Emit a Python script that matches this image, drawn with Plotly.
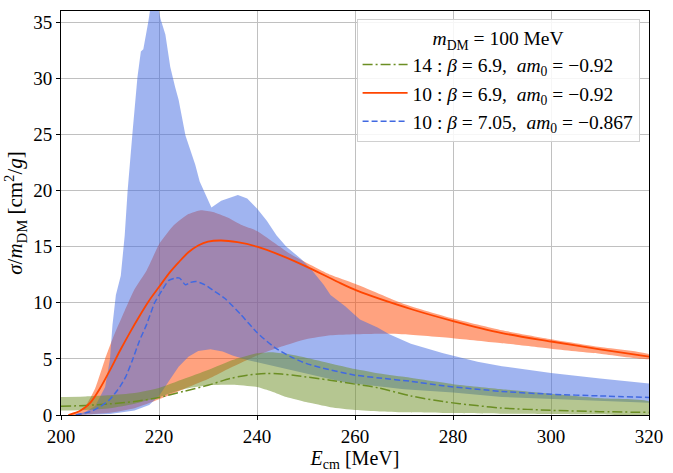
import plotly.graph_objects as go

# ---------------- data ----------------
# red band (10: beta=6.9, am0=-0.92)
red_up_E = [201.5, 203, 205, 207, 209, 211, 213, 215, 217.5, 220, 223, 226, 228.5, 231, 234, 237, 240,
            244, 247, 250, 255, 260, 270, 280, 290, 300, 310, 320]
red_up = [0, 0.2, 0.8, 2.4, 5.0, 7.3, 9.3, 11.2, 12.9, 15.2, 16.9, 17.9, 18.25, 18.1, 17.6, 16.9, 16.4,
          15.2, 14.3, 13.6, 12.5, 11.7, 9.9, 8.6, 7.55, 6.75, 6.05, 5.4]
red_lo_E = [201.5, 205, 210, 215, 220, 225, 230, 235, 240, 245, 250, 255, 260, 265, 270, 280, 290, 300, 310, 320]
red_lo = [0, 0.05, 0.2, 0.6, 1.4, 2.3, 3.2, 4.3, 5.3, 6.1, 6.75, 7.1, 7.2, 7.25, 7.2, 6.85, 6.4, 5.9, 5.45, 5.0]

# blue band (10: beta=7.05, am0=-0.867)
blue_up_E = [203, 205, 207, 209, 210, 210.5, 211.2, 212.2, 213, 213.6, 214.6, 215.6, 216.3, 216.8, 217.8,
             218.5, 219.5, 220.3, 221.3, 222.3, 223.3, 224, 225.4, 227.4, 228.3, 229.4, 230.7, 232.7,
             234.5, 236.1, 238, 240, 242, 244, 246, 249, 251, 253.6, 255, 258, 261, 264.6, 267, 271.4,
             278, 285, 290, 300, 310, 320]
blue_up = [0, 0.3, 0.8, 2.5, 5.0, 8.0, 10.7, 12.4, 16.0, 20.0, 25.2, 30.1, 32.4, 32.6, 35.0,
           37.0, 37.0, 35.3, 33.9, 31.0, 29.2, 28.1, 24.9, 22.3, 20.8, 19.7, 18.5, 19.1,
           19.4, 19.6, 19.3, 18.4, 17.3, 16.0, 15.0, 13.9, 13.0, 11.6, 10.7, 9.7, 8.5, 7.8, 7.2, 6.35,
           5.5, 4.75, 4.35, 3.75, 3.25, 2.8]
blue_lo_E = [203, 205, 210, 215, 218, 220, 222, 224, 226, 228, 230.5, 233, 235, 238, 240, 245, 250,
             258, 270, 280, 290, 300, 310, 320]
blue_lo = [0, 0.0, 0.1, 0.4, 0.9, 1.7, 3.0, 4.3, 5.2, 5.7, 5.85, 5.65, 5.3, 4.9, 4.7, 4.2, 3.7,
           2.9, 2.3, 2.0, 1.6, 1.4, 1.25, 1.1]

# green band (14: beta=6.9, am0=-0.92)
green_E = [200, 205, 210, 215, 220, 225, 230, 235, 240, 243, 246, 250, 255, 260, 265, 270, 280, 290, 300, 310, 320]
green_lo = [0.4, 0.45, 0.6, 1.0, 1.6, 2.3, 2.65, 2.7, 2.5, 2.1, 1.6, 1.15, 0.7, 0.45, 0.32, 0.25, 0.18, 0.12, 0.1, 0.07, 0.05]
green_up = [1.6, 1.65, 1.75, 1.95, 2.4, 3.2, 4.0, 4.9, 5.5, 5.6, 5.45, 5.1, 4.6, 4.1, 3.7, 3.4, 2.75, 2.3, 1.9, 1.5, 1.2]

# central curves
green_line_E = [200, 205, 210, 215, 220, 225, 230, 234.5, 238, 241.7, 245, 248.2, 254.9, 260, 264.6,
                271.4, 278.1, 284.8, 290, 300, 310, 320]
green_line = [0.78, 0.85, 1.0, 1.2, 1.56, 2.1, 2.65, 3.25, 3.55, 3.7, 3.65, 3.5, 3.1, 2.75, 2.43,
              1.7, 1.19, 0.84, 0.62, 0.42, 0.3, 0.23]

red_line_E = [201.5, 204, 206, 208, 210, 212, 214, 216, 218, 220, 222, 224, 226, 228, 230, 232.7,
              236, 240, 245, 250.2, 256.3, 260.3, 271.7, 280, 290, 300, 310, 320]
red_line = [0, 0.4, 1.1, 2.4, 4.0, 5.7, 7.3, 8.8, 10.2, 11.4, 12.6, 13.6, 14.5, 15.1, 15.45, 15.55,
            15.4, 15.0, 14.2, 13.2, 11.9, 11.1, 9.4, 8.37, 7.3, 6.55, 5.85, 5.2]

blue_line_E = [203, 206, 208, 210, 212, 213.2, 214.5, 216, 217.5, 219, 219.5, 220.6, 222, 223.3, 224.2,
               225.4, 226.3, 227.6, 229.4, 231.4, 233.4, 236.7, 240, 243.5, 246.8, 250, 253.5, 260,
               265, 271.4, 278, 290, 300, 310, 320]
blue_line = [0, 0.3, 0.75, 1.4, 2.5, 3.4, 4.8, 6.6, 8.1, 9.9, 10.3, 11.1, 12.0, 12.2, 12.2,
             11.6, 11.8, 11.9, 11.6, 11.0, 10.4, 8.95, 7.35, 6.05, 5.2, 4.6, 4.17, 3.55,
             3.3, 3.0, 2.6, 2.1, 1.85, 1.7, 1.56]

x_ticks = [200, 220, 240, 260, 280, 300, 320]
y_ticks = [0, 5, 10, 15, 20, 25, 30, 35]

legend_title = "<i>m</i><sub>DM</sub> = 100 MeV"
labels = ["14 : <i>β</i> = 6.9,  <i>am</i><sub>0</sub> = −0.92",
          "10 : <i>β</i> = 6.9,  <i>am</i><sub>0</sub> = −0.92",
          "10 : <i>β</i> = 7.05,  <i>am</i><sub>0</sub> = −0.867"]

# ---------------- figure ----------------
FONT = "Liberation Serif"
fig = go.Figure()


def band(E_up, up, E_lo, lo, color, shape="spline"):
    fig.add_trace(go.Scatter(
        x=list(E_up) + list(E_lo)[::-1],
        y=list(up) + list(lo)[::-1],
        fill="toself", fillcolor=color, mode="lines",
        line=dict(width=0, color=color, shape=shape, smoothing=0.5),
        showlegend=False, hoverinfo="skip"))


band(red_up_E, red_up, red_lo_E, red_lo, "rgba(255,69,0,0.5)")
band(blue_up_E, blue_up, blue_lo_E, blue_lo, "rgba(65,105,225,0.5)", shape="linear")
band(green_E, green_up, green_E, green_lo, "rgba(107,142,35,0.5)")

fig.add_trace(go.Scatter(x=green_line_E, y=green_line, mode="lines", name=labels[0],
                         line=dict(color="#6b8e23", width=1.5, dash="10px,3px,2px,3px",
                                   shape="spline", smoothing=0.8)))
fig.add_trace(go.Scatter(x=red_line_E, y=red_line, mode="lines", name=labels[1],
                         line=dict(color="#ff4500", width=1.8, shape="spline", smoothing=0.8)))
fig.add_trace(go.Scatter(x=blue_line_E, y=blue_line, mode="lines", name=labels[2],
                         line=dict(color="#4169e1", width=1.5, dash="6px,3px",
                                   shape="spline", smoothing=0.6)))

axis_common = dict(showline=True, linecolor="black", linewidth=1, mirror=True,
                   ticks="outside", ticklen=4, tickcolor="black",
                   showgrid=True, gridcolor="#c0c0c0", gridwidth=1, zeroline=False,
                   tickfont=dict(family=FONT, size=19, color="black"))

fig.update_xaxes(range=[200, 320], tickvals=x_ticks,
                 title=dict(text="<i>E</i><sub>cm</sub> [MeV]", font=dict(family=FONT, size=20, color="black"),
                            standoff=2),
                 **axis_common)
fig.update_yaxes(range=[0, 36], tickvals=y_ticks,
                 title=dict(text="<i>σ</i>/<i>m</i><sub>DM</sub> [cm<sup>2</sup>/<i>g</i>]",
                            font=dict(family=FONT, size=21, color="black"), standoff=4),
                 **axis_common)

fig.update_layout(
    width=673, height=473,
    margin=dict(l=61, r=17, t=10, b=50),
    plot_bgcolor="white", paper_bgcolor="white",
    font=dict(family=FONT, size=19, color="black"),
    legend=dict(x=0.984, y=0.98, xanchor="right", yanchor="top",
                bgcolor="rgba(255,255,255,0.85)", bordercolor="#d0d0d0", borderwidth=1,
                itemwidth=45,
                title=dict(text=legend_title, side="top center", font=dict(family=FONT, size=19.5)),
                font=dict(family=FONT, size=19.5), tracegroupgap=0),
)

fig.write_html("out.html")
